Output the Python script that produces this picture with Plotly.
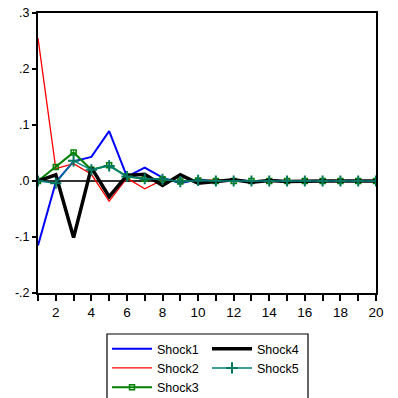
import plotly.graph_objects as go

periods = list(range(1, 21))
shock1 = [-0.115, -0.002, 0.035, 0.043, 0.089, 0.008, 0.024, 0.006, -0.004, 0.003,
          -0.001, 0.001, 0.000, 0.000, 0.000, 0.000, 0.000, 0.000, 0.000, 0.000]
shock2 = [0.255, 0.022, 0.031, 0.012, -0.036, 0.005, -0.014, 0.002, -0.001, 0.001,
          0.002, 0.000, 0.000, 0.000, 0.000, 0.000, 0.000, 0.000, 0.000, 0.000]
shock3 = [0.000, 0.025, 0.051, 0.020, 0.028, 0.008, 0.004, 0.003, -0.001, 0.001,
          0.000, 0.000, 0.000, 0.000, 0.000, 0.000, 0.000, 0.000, 0.000, 0.000]
shock4 = [0.000, 0.011, -0.101, 0.024, -0.028, 0.010, 0.012, -0.008, 0.011, -0.004,
          -0.001, 0.002, -0.002, 0.001, -0.001, 0.000, 0.000, 0.000, 0.000, 0.000]
shock5 = [0.000, -0.004, 0.036, 0.020, 0.027, 0.008, 0.004, 0.003, -0.001, 0.001,
          0.000, 0.000, 0.000, 0.000, 0.000, 0.000, 0.000, 0.000, 0.000, 0.000]

ytick_vals = [-0.2, -0.1, 0.0, 0.1, 0.2, 0.3]
ytick_text = ["-.2", "-.1", ".0", ".1", ".2", ".3"]
xtick_vals = periods
xtick_text = [str(p) if p % 2 == 0 else "" for p in periods]

FONT = "Liberation Sans, Arial, sans-serif"

fig = go.Figure()
fig.add_trace(go.Scatter(x=periods, y=shock1, name="Shock1", mode="lines",
                         line=dict(color="#0000FF", width=2), legend="legend"))
fig.add_trace(go.Scatter(x=periods, y=shock2, name="Shock2", mode="lines",
                         line=dict(color="#FF0000", width=1.3), legend="legend"))
fig.add_trace(go.Scatter(x=periods, y=shock3, name="Shock3", mode="lines+markers",
                         line=dict(color="#008000", width=2),
                         marker=dict(symbol="square-open", size=5, color="#008000",
                                     line=dict(width=1.5, color="#008000")),
                         legend="legend"))
fig.add_trace(go.Scatter(x=periods, y=shock4, name="Shock4", mode="lines",
                         line=dict(color="#000000", width=3.5), legend="legend2"))
fig.add_trace(go.Scatter(x=periods, y=shock5, name="Shock5", mode="lines+markers",
                         line=dict(color="#008080", width=1.5),
                         marker=dict(symbol="cross-thin", size=8, color="#008080",
                                     line=dict(width=2, color="#007860")),
                         legend="legend2"))

W = H = 398
L, T = 38, 13
R = W - 376
B = H - 293
pw = W - L - R
ph = H - T - B

def px_x(p):
    return (p - L) / pw

def px_y(p):
    return (H - B - p) / ph

fig.update_layout(
    width=W, height=H,
    margin=dict(l=L, r=R, t=T, b=B, pad=0, autoexpand=False),
    plot_bgcolor="white", paper_bgcolor="white",
    font=dict(family=FONT, size=13, color="black"),
    showlegend=True,
    legend=dict(x=px_x(107), y=px_y(334), xanchor="left", yanchor="top",
                orientation="v", bgcolor="rgba(0,0,0,0)", borderwidth=0,
                itemwidth=40,
                font=dict(family=FONT, size=12.5), tracegroupgap=0),
    legend2=dict(x=px_x(207), y=px_y(334), xanchor="left", yanchor="top",
                 orientation="v", bgcolor="rgba(0,0,0,0)", borderwidth=0,
                 itemwidth=40,
                 font=dict(family=FONT, size=12.5), tracegroupgap=0),
    xaxis=dict(range=[1, 20], tickmode="array", tickvals=xtick_vals, ticktext=xtick_text,
               ticks="outside", ticklen=6, tickwidth=1.5, tickcolor="black",
               showline=True, linecolor="black", linewidth=2, mirror=True,
               showgrid=False, zeroline=False, tickfont=dict(size=13.5), automargin=False,
               ticklabeloverflow="allow"),
    yaxis=dict(range=[-0.2, 0.3], tickmode="array", tickvals=ytick_vals, ticktext=ytick_text,
               ticks="outside", ticklen=4, tickwidth=1.5, tickcolor="black",
               showline=True, linecolor="black", linewidth=2, mirror=True,
               showgrid=False, zeroline=True, zerolinecolor="#333333", zerolinewidth=1.5,
               tickfont=dict(size=12.5), automargin=False, ticklabeloverflow="allow"),
    shapes=[dict(type="rect", xref="paper", yref="paper",
                 x0=px_x(107), x1=px_x(308), y0=px_y(410), y1=px_y(334),
                 line=dict(color="black", width=1.2), fillcolor="rgba(0,0,0,0)")],
)

fig.write_html("out.html", config={"displayModeBar": False},
               post_script="document.body.style.margin='0';")
